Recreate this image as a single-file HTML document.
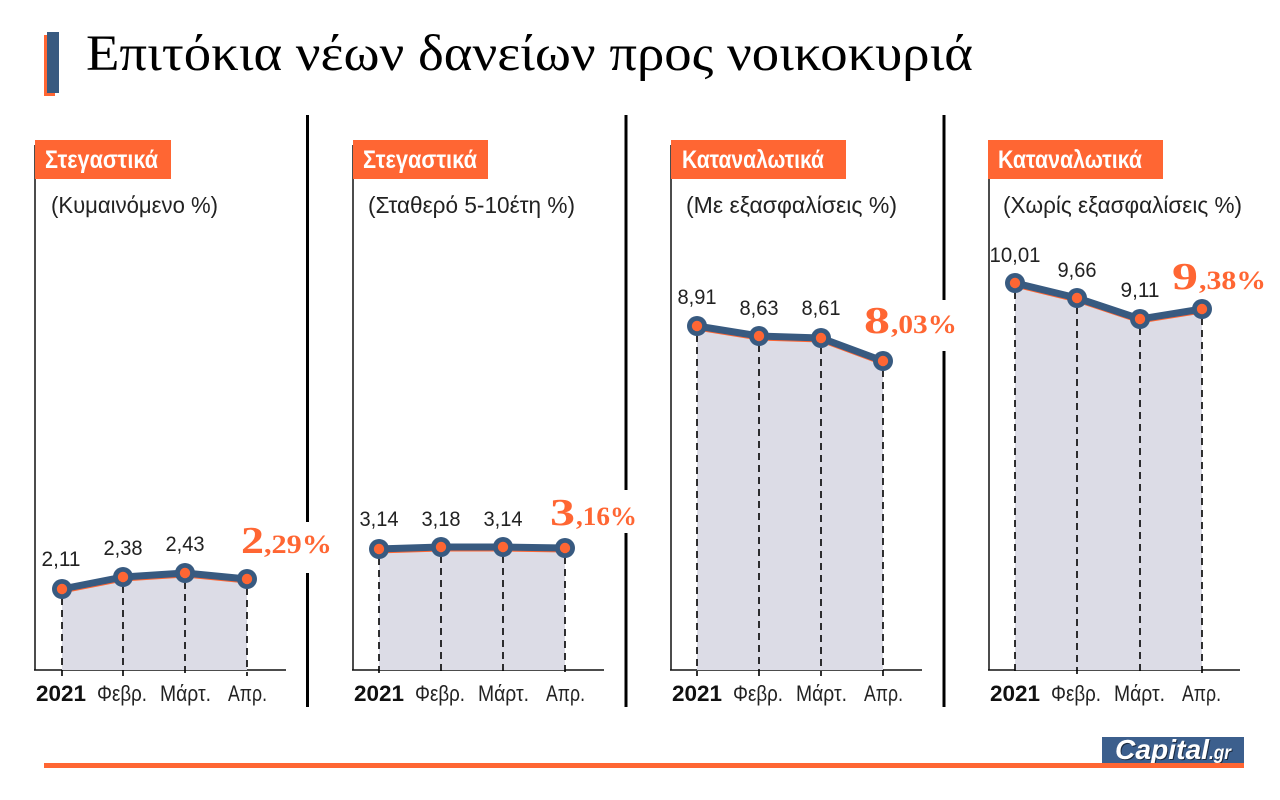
<!DOCTYPE html>
<html>
<head>
<meta charset="utf-8">
<style>
  html,body{margin:0;padding:0;background:#fff;}
  svg{display:block;}
  .sans{font-family:"Liberation Sans","DejaVu Sans",sans-serif;}
  .narrow{font-family:"Liberation Sans Narrow","Liberation Sans",sans-serif;}
  .serif{font-family:"Liberation Serif","DejaVu Serif",serif;}
</style>
</head>
<body>
<svg width="1280" height="800" viewBox="0 0 1280 800" xmlns="http://www.w3.org/2000/svg">
  <rect width="1280" height="800" fill="#fff"/>

  <!-- Title bars -->
  <rect x="44" y="35" width="11" height="61" fill="#ff6633"/>
  <rect x="47" y="32" width="12" height="61" fill="#385a80"/>
  <text class="serif" x="86" y="70" font-size="51" fill="#000" textLength="887" lengthAdjust="spacingAndGlyphs">Επιτόκια νέων δανείων προς νοικοκυριά</text>

  <!-- Separators -->
  <line x1="307.5" y1="115" x2="307.5" y2="707" stroke="#000" stroke-width="3"/>
  <line x1="626" y1="115" x2="626" y2="707" stroke="#000" stroke-width="3"/>
  <line x1="944" y1="115" x2="944" y2="707" stroke="#000" stroke-width="3"/>
  <!-- white masks behind big labels (separator gaps) -->
  <rect x="300" y="522" width="14" height="51" fill="#fff"/>
  <rect x="619" y="490" width="14" height="43" fill="#fff"/>
  <rect x="937" y="300" width="14" height="51" fill="#fff"/>

  <!-- ============ PANEL 1 ============ -->
  <line x1="35" y1="145" x2="35" y2="670" stroke="#111" stroke-width="1.5"/>
  <line x1="34" y1="670" x2="286" y2="670" stroke="#111" stroke-width="1.5"/>
  <polygon points="62,592 123,580 185,576 247,582 247,670 62,670" fill="#dcdce6"/>
  <g stroke="#000" stroke-width="1.6" stroke-dasharray="7,5">
    <line x1="62" y1="598" x2="62" y2="676"/>
    <line x1="123" y1="586" x2="123" y2="676"/>
    <line x1="185" y1="582" x2="185" y2="676"/>
    <line x1="247" y1="588" x2="247" y2="676"/>
  </g>
  <polyline points="62,592 123,580 185,576 247,582" fill="none" stroke="#ff6633" stroke-width="3"/>
  <polyline points="62,589 123,577 185,573 247,579" fill="none" stroke="#385a80" stroke-width="7" stroke-linejoin="round"/>
  <g fill="#385a80"><circle cx="62" cy="589" r="10"/><circle cx="123" cy="577" r="10"/><circle cx="185" cy="573" r="10"/><circle cx="247" cy="579" r="10"/></g>
  <g fill="#ff6633"><circle cx="62" cy="589" r="5.2"/><circle cx="123" cy="577" r="5.2"/><circle cx="185" cy="573" r="5.2"/><circle cx="247" cy="579" r="5.2"/></g>
  <g class="sans" font-size="21" fill="#222" text-anchor="middle">
    <text x="61" y="566" textLength="39" lengthAdjust="spacingAndGlyphs">2,11</text>
    <text x="123" y="555" textLength="39" lengthAdjust="spacingAndGlyphs">2,38</text>
    <text x="185" y="551" textLength="39" lengthAdjust="spacingAndGlyphs">2,43</text>
  </g>
  <text class="serif" x="241" y="553" font-size="38" font-weight="bold" fill="#ff6633" textLength="23" lengthAdjust="spacingAndGlyphs">2</text>
  <text class="serif" x="264" y="553" font-size="26" font-weight="bold" fill="#ff6633" textLength="68" lengthAdjust="spacingAndGlyphs">,29%</text>
  <rect x="35" y="140" width="136" height="39" fill="#ff6633"/>
  <text class="narrow" x="45" y="168" font-size="25" font-weight="bold" fill="#fff" textLength="113" lengthAdjust="spacingAndGlyphs">Στεγαστικά</text>
  <text class="narrow" x="51" y="213" font-size="23" fill="#222" textLength="167" lengthAdjust="spacingAndGlyphs">(Κυμαινόμενο %)</text>
  <text class="sans" x="36" y="701" font-size="22" font-weight="bold" fill="#111" textLength="50" lengthAdjust="spacingAndGlyphs">2021</text>
  <text class="narrow" x="97" y="701" font-size="22" fill="#222" textLength="50" lengthAdjust="spacingAndGlyphs">Φεβρ.</text>
  <text class="narrow" x="160" y="701" font-size="22" fill="#222" textLength="51" lengthAdjust="spacingAndGlyphs">Μάρτ.</text>
  <text class="narrow" x="228" y="701" font-size="22" fill="#222" textLength="39" lengthAdjust="spacingAndGlyphs">Απρ.</text>

  <!-- ============ PANEL 2 ============ -->
  <line x1="353" y1="145" x2="353" y2="670" stroke="#111" stroke-width="1.5"/>
  <line x1="352" y1="670" x2="604" y2="670" stroke="#111" stroke-width="1.5"/>
  <polygon points="379,552 441,550 503,550 565,551 565,670 379,670" fill="#dcdce6"/>
  <g stroke="#000" stroke-width="1.6" stroke-dasharray="7,5">
    <line x1="379" y1="558" x2="379" y2="676"/>
    <line x1="441" y1="556" x2="441" y2="676"/>
    <line x1="503" y1="556" x2="503" y2="676"/>
    <line x1="565" y1="557" x2="565" y2="676"/>
  </g>
  <polyline points="379,552 441,550 503,550 565,551" fill="none" stroke="#ff6633" stroke-width="3"/>
  <polyline points="379,549 441,547 503,547 565,548" fill="none" stroke="#385a80" stroke-width="7" stroke-linejoin="round"/>
  <g fill="#385a80"><circle cx="379" cy="549" r="10"/><circle cx="441" cy="547" r="10"/><circle cx="503" cy="547" r="10"/><circle cx="565" cy="548" r="10"/></g>
  <g fill="#ff6633"><circle cx="379" cy="549" r="5.2"/><circle cx="441" cy="547" r="5.2"/><circle cx="503" cy="547" r="5.2"/><circle cx="565" cy="548" r="5.2"/></g>
  <g class="sans" font-size="21" fill="#222" text-anchor="middle">
    <text x="379" y="526" textLength="39" lengthAdjust="spacingAndGlyphs">3,14</text>
    <text x="441" y="526" textLength="39" lengthAdjust="spacingAndGlyphs">3,18</text>
    <text x="503" y="526" textLength="39" lengthAdjust="spacingAndGlyphs">3,14</text>
  </g>
  <text class="serif" x="550" y="525" font-size="38" font-weight="bold" fill="#ff6633" textLength="25" lengthAdjust="spacingAndGlyphs">3</text>
  <text class="serif" x="576" y="525" font-size="26" font-weight="bold" fill="#ff6633" textLength="61" lengthAdjust="spacingAndGlyphs">,16%</text>
  <rect x="353" y="140" width="135" height="39" fill="#ff6633"/>
  <text class="narrow" x="363" y="168" font-size="25" font-weight="bold" fill="#fff" textLength="114" lengthAdjust="spacingAndGlyphs">Στεγαστικά</text>
  <text class="narrow" x="368" y="213" font-size="23" fill="#222" textLength="207" lengthAdjust="spacingAndGlyphs">(Σταθερό 5-10έτη %)</text>
  <text class="sans" x="354" y="701" font-size="22" font-weight="bold" fill="#111" textLength="50" lengthAdjust="spacingAndGlyphs">2021</text>
  <text class="narrow" x="415" y="701" font-size="22" fill="#222" textLength="50" lengthAdjust="spacingAndGlyphs">Φεβρ.</text>
  <text class="narrow" x="478" y="701" font-size="22" fill="#222" textLength="51" lengthAdjust="spacingAndGlyphs">Μάρτ.</text>
  <text class="narrow" x="546" y="701" font-size="22" fill="#222" textLength="39" lengthAdjust="spacingAndGlyphs">Απρ.</text>

  <!-- ============ PANEL 3 ============ -->
  <line x1="671" y1="145" x2="671" y2="670" stroke="#111" stroke-width="1.5"/>
  <line x1="670" y1="670" x2="922" y2="670" stroke="#111" stroke-width="1.5"/>
  <polygon points="697,329 759,339 821,341 883,364 883,670 697,670" fill="#dcdce6"/>
  <g stroke="#000" stroke-width="1.6" stroke-dasharray="7,5">
    <line x1="697" y1="335" x2="697" y2="676"/>
    <line x1="759" y1="345" x2="759" y2="676"/>
    <line x1="821" y1="347" x2="821" y2="676"/>
    <line x1="883" y1="370" x2="883" y2="676"/>
  </g>
  <polyline points="697,329 759,339 821,341 883,364" fill="none" stroke="#ff6633" stroke-width="3"/>
  <polyline points="697,326 759,336 821,338 883,361" fill="none" stroke="#385a80" stroke-width="7" stroke-linejoin="round"/>
  <g fill="#385a80"><circle cx="697" cy="326" r="10"/><circle cx="759" cy="336" r="10"/><circle cx="821" cy="338" r="10"/><circle cx="883" cy="361" r="10"/></g>
  <g fill="#ff6633"><circle cx="697" cy="326" r="5.2"/><circle cx="759" cy="336" r="5.2"/><circle cx="821" cy="338" r="5.2"/><circle cx="883" cy="361" r="5.2"/></g>
  <g class="sans" font-size="21" fill="#222" text-anchor="middle">
    <text x="697" y="304" textLength="39" lengthAdjust="spacingAndGlyphs">8,91</text>
    <text x="759" y="315" textLength="39" lengthAdjust="spacingAndGlyphs">8,63</text>
    <text x="821" y="315" textLength="39" lengthAdjust="spacingAndGlyphs">8,61</text>
  </g>
  <text class="serif" x="864" y="333" font-size="38" font-weight="bold" fill="#ff6633" textLength="26" lengthAdjust="spacingAndGlyphs">8</text>
  <text class="serif" x="891" y="333" font-size="26" font-weight="bold" fill="#ff6633" textLength="66" lengthAdjust="spacingAndGlyphs">,03%</text>
  <rect x="671" y="140" width="175" height="39" fill="#ff6633"/>
  <text class="narrow" x="682" y="168" font-size="25" font-weight="bold" fill="#fff" textLength="142" lengthAdjust="spacingAndGlyphs">Καταναλωτικά</text>
  <text class="narrow" x="686" y="213" font-size="23" fill="#222" textLength="211" lengthAdjust="spacingAndGlyphs">(Με εξασφαλίσεις %)</text>
  <text class="sans" x="672" y="701" font-size="22" font-weight="bold" fill="#111" textLength="50" lengthAdjust="spacingAndGlyphs">2021</text>
  <text class="narrow" x="733" y="701" font-size="22" fill="#222" textLength="50" lengthAdjust="spacingAndGlyphs">Φεβρ.</text>
  <text class="narrow" x="796" y="701" font-size="22" fill="#222" textLength="51" lengthAdjust="spacingAndGlyphs">Μάρτ.</text>
  <text class="narrow" x="864" y="701" font-size="22" fill="#222" textLength="39" lengthAdjust="spacingAndGlyphs">Απρ.</text>

  <!-- ============ PANEL 4 ============ -->
  <line x1="989" y1="145" x2="989" y2="670" stroke="#111" stroke-width="1.5"/>
  <line x1="988" y1="670" x2="1240" y2="670" stroke="#111" stroke-width="1.5"/>
  <polygon points="1015,286 1077,301 1140,322 1202,312 1202,670 1015,670" fill="#dcdce6"/>
  <g stroke="#000" stroke-width="1.6" stroke-dasharray="7,5">
    <line x1="1015" y1="292" x2="1015" y2="676"/>
    <line x1="1077" y1="307" x2="1077" y2="676"/>
    <line x1="1140" y1="328" x2="1140" y2="676"/>
    <line x1="1202" y1="318" x2="1202" y2="676"/>
  </g>
  <polyline points="1015,286 1077,301 1140,322 1202,312" fill="none" stroke="#ff6633" stroke-width="3"/>
  <polyline points="1015,283 1077,298 1140,319 1202,309" fill="none" stroke="#385a80" stroke-width="7" stroke-linejoin="round"/>
  <g fill="#385a80"><circle cx="1015" cy="283" r="10"/><circle cx="1077" cy="298" r="10"/><circle cx="1140" cy="319" r="10"/><circle cx="1202" cy="309" r="10"/></g>
  <g fill="#ff6633"><circle cx="1015" cy="283" r="5.2"/><circle cx="1077" cy="298" r="5.2"/><circle cx="1140" cy="319" r="5.2"/><circle cx="1202" cy="309" r="5.2"/></g>
  <g class="sans" font-size="21" fill="#222" text-anchor="middle">
    <text x="1015" y="262" textLength="51" lengthAdjust="spacingAndGlyphs">10,01</text>
    <text x="1077" y="277" textLength="39" lengthAdjust="spacingAndGlyphs">9,66</text>
    <text x="1140" y="297" textLength="39" lengthAdjust="spacingAndGlyphs">9,11</text>
  </g>
  <text class="serif" x="1172" y="289" font-size="38" font-weight="bold" fill="#ff6633" textLength="26" lengthAdjust="spacingAndGlyphs">9</text>
  <text class="serif" x="1199" y="289" font-size="26" font-weight="bold" fill="#ff6633" textLength="67" lengthAdjust="spacingAndGlyphs">,38%</text>
  <rect x="988" y="140" width="175" height="39" fill="#ff6633"/>
  <text class="narrow" x="998" y="168" font-size="25" font-weight="bold" fill="#fff" textLength="144" lengthAdjust="spacingAndGlyphs">Καταναλωτικά</text>
  <text class="narrow" x="1003" y="213" font-size="23" fill="#222" textLength="239" lengthAdjust="spacingAndGlyphs">(Χωρίς εξασφαλίσεις %)</text>
  <text class="sans" x="990" y="701" font-size="22" font-weight="bold" fill="#111" textLength="50" lengthAdjust="spacingAndGlyphs">2021</text>
  <text class="narrow" x="1051" y="701" font-size="22" fill="#222" textLength="50" lengthAdjust="spacingAndGlyphs">Φεβρ.</text>
  <text class="narrow" x="1114" y="701" font-size="22" fill="#222" textLength="51" lengthAdjust="spacingAndGlyphs">Μάρτ.</text>
  <text class="narrow" x="1182" y="701" font-size="22" fill="#222" textLength="39" lengthAdjust="spacingAndGlyphs">Απρ.</text>

  <!-- Footer -->
  <rect x="1102" y="737" width="142" height="27" fill="#3c5f8d"/>
  <text class="sans" x="1116" y="760" font-size="28" font-weight="bold" font-style="italic" fill="#1b2a3f" textLength="94" lengthAdjust="spacingAndGlyphs">Capital</text>
  <text class="sans" x="1115" y="759" font-size="28" font-weight="bold" font-style="italic" fill="#fff" textLength="94" lengthAdjust="spacingAndGlyphs">Capital</text>
  <text class="sans" x="1210" y="760" font-size="19" font-weight="bold" font-style="italic" fill="#1b2a3f" textLength="22" lengthAdjust="spacingAndGlyphs">.gr</text>
  <text class="sans" x="1209" y="759" font-size="19" font-weight="bold" font-style="italic" fill="#fff" textLength="22" lengthAdjust="spacingAndGlyphs">.gr</text>
  <rect x="44" y="763" width="1200" height="5" fill="#ff6633"/>
</svg>
</body>
</html>
